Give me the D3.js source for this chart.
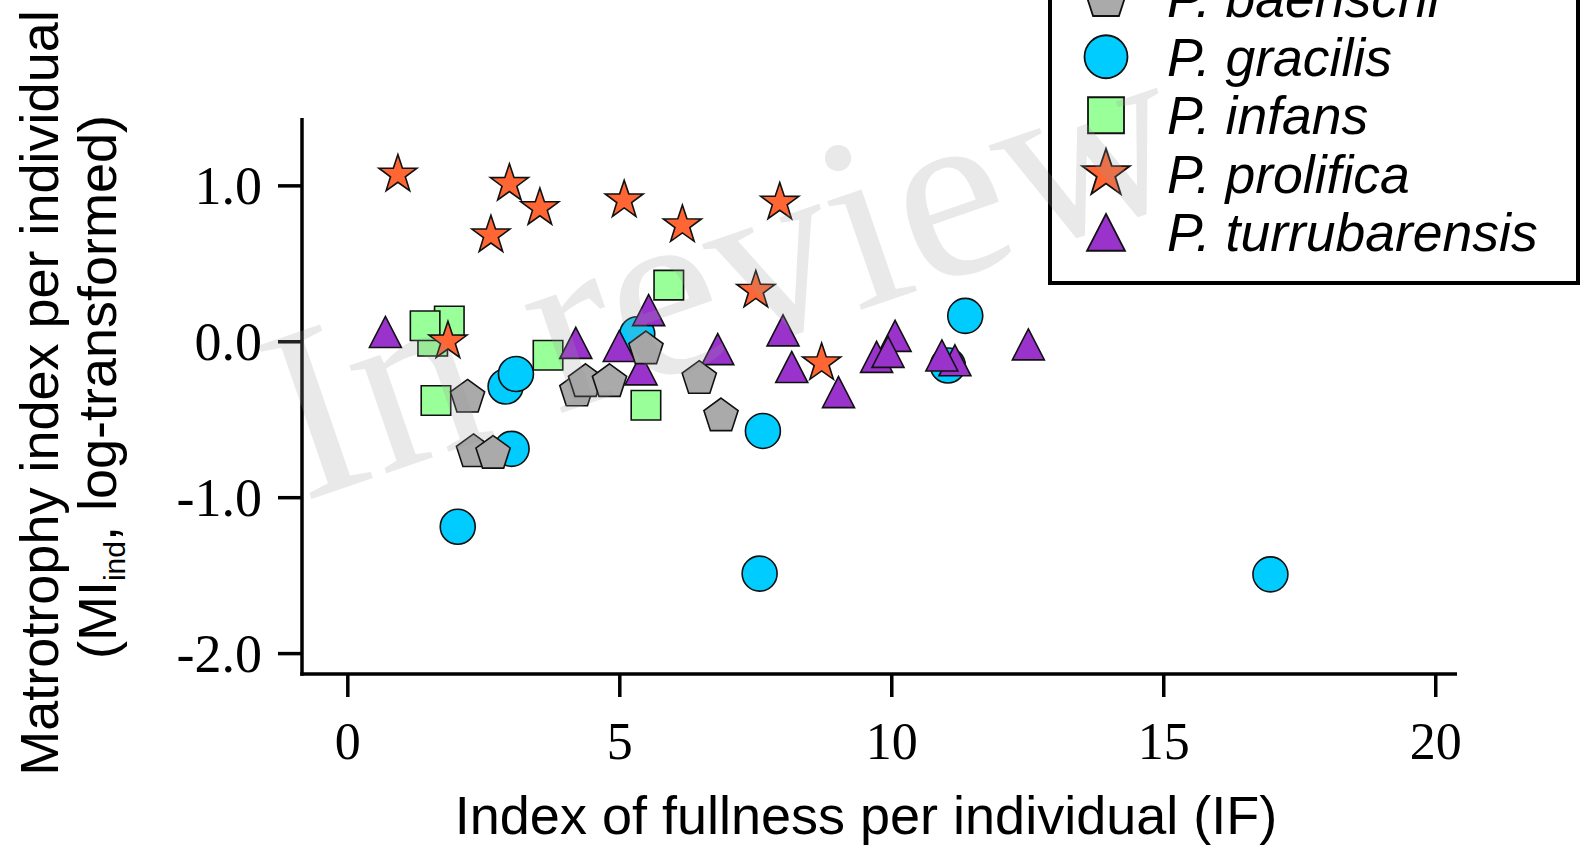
<!DOCTYPE html>
<html>
<head>
<meta charset="utf-8">
<script src="https://cdn.jsdelivr.net/npm/d3@7"></script>
<style>
  html, body { margin: 0; padding: 0; background: #fff; }
  svg { display: block; }
</style>
</head>
<body>
<svg id="chart" width="1589" height="852"></svg>
<script>
// Index of fullness (IF) and log-transformed matrotrophy index (MI_ind) per species
const species = ["P. baenschi", "P. gracilis", "P. infans", "P. prolifica", "P. turrubarensis"];

const ifBaenschi = [2.21, 2.32, 2.68, 4.22, 4.38, 4.82, 5.49, 6.47, 6.87];
const miBaenschi = [-0.36, -0.71, -0.72, -0.32, -0.26, -0.26, -0.05, -0.24, -0.48];

const ifGracilis = [5.33, 2.91, 3.10, 3.02, 2.03, 7.64, 7.58, 16.97, 11.36, 11.04];
const miGracilis = [0.045, -0.29, -0.21, -0.69, -1.19, -0.575, -1.49, -1.495, 0.163, -0.155];

const ifInfans = [1.57, 1.875, 1.43, 1.63, 3.69, 5.49, 5.91];
const miInfans = [0.0, 0.13, 0.10, -0.38, -0.09, -0.41, 0.36];

const ifProlifica = [0.93, 2.98, 3.54, 2.64, 5.09, 6.16, 7.95, 7.51, 1.85, 8.72];
const miProlifica = [1.07, 1.01, 0.855, 0.68, 0.905, 0.745, 0.89, 0.325, 0.0, -0.14];

const ifTurrubarensis = [0.70, 4.20, 5.00, 5.54, 5.40, 6.81, 8.01, 8.17, 9.03, 10.07, 9.73, 9.94, 11.17, 10.93, 12.52];
const miTurrubarensis = [0.06, -0.01, -0.03, 0.20, -0.18, -0.05, 0.07, -0.165, -0.326, 0.035, -0.10, -0.068, -0.122, -0.091, -0.02];

const xTicks = [0, 5, 10, 15, 20];
const yTicks = [1.0, 0.0, -1.0, -2.0];
const yTickLabels = ["1.0", "0.0", "-1.0", "-2.0"];

// ---- marker shapes (paths centred on 0,0) ----
function circlePath(s) {
  const r = s / 2;
  return `M${r},0A${r},${r} 0 1,1 ${-r},0A${r},${r} 0 1,1 ${r},0Z`;
}
function squarePath(s) {
  const h = s / 2;
  return `M${-h},${-h}H${h}V${h}H${-h}Z`;
}
function trianglePath(s) {
  const w = s / 2, h = s * 0.97 / 2;
  return `M0,${-h}L${w},${h}L${-w},${h}Z`;
}
function polyStar(n, R, r) {
  const pts = [];
  const k = r == null ? n : n * 2;
  for (let i = 0; i < k; i++) {
    const rad = (r == null || i % 2 === 0) ? R : r;
    const a = -Math.PI / 2 + i * Math.PI * 2 / k;
    pts.push([rad * Math.cos(a), rad * Math.sin(a)]);
  }
  return "M" + pts.map(p => p[0].toFixed(2) + "," + p[1].toFixed(2)).join("L") + "Z";
}
function pentagonPath(s) { return polyStar(5, s / 2); }
function starPath(s) { return polyStar(5, s / 2, s / 2 * 0.39); }

const series = [
  { name: species[0], xs: ifBaenschi, ys: miBaenschi, fill: "#aaaaaa", shape: pentagonPath, size: 36, lsize: 44 },
  { name: species[1], xs: ifGracilis, ys: miGracilis, fill: "#00ccff", shape: circlePath, size: 35, lsize: 43 },
  { name: species[2], xs: ifInfans, ys: miInfans, fill: "#99ff99", shape: squarePath, size: 29.5, lsize: 36 },
  { name: species[3], xs: ifProlifica, ys: miProlifica, fill: "#ff6633", shape: starPath, size: 40, lsize: 50 },
  { name: species[4], xs: ifTurrubarensis, ys: miTurrubarensis, fill: "#9933cc", shape: trianglePath, size: 32, lsize: 38 }
];
// stacking order of the point layers
const drawOrder = [1, 2, 3, 4, 0];

const svg = d3.select("#chart");

const x = d3.scaleLinear().domain([-0.833, 20.40]).range([302, 1457]);
const y = d3.scaleLinear().domain([1.432, -2.134]).range([118, 674]);

// ---- axes ----
const axisStroke = 3.5;
const serif = "'Liberation Serif', 'Times New Roman', serif";
const sans = "'Liberation Sans', Arial, sans-serif";

const gx = svg.append("g").attr("transform", `translate(0,${y.range()[1]})`)
  .call(d3.axisBottom(x).tickValues(xTicks).tickSize(23).tickSizeOuter(0).tickPadding(25).tickFormat(d3.format("d")));
const gy = svg.append("g").attr("transform", `translate(${x.range()[0]},0)`)
  .call(d3.axisLeft(y).tickValues(yTicks).tickSize(24).tickSizeOuter(0).tickPadding(16)
    .tickFormat((d, i) => yTickLabels[i]));

[gx, gy].forEach(g => {
  g.select(".domain").attr("stroke", "#000").attr("stroke-width", axisStroke);
  g.selectAll(".tick line").attr("stroke", "#000").attr("stroke-width", axisStroke);
  g.selectAll(".tick text").attr("fill", "#000").style("font-family", serif).style("font-size", "52px");
});
gx.selectAll(".tick text").attr("dy", "0.71em");
gy.selectAll(".tick text").attr("dy", "0.34em").style("font-size", "54px");

// extend the axis lines so they meet in the corner
gx.select(".domain").attr("d", `M${-axisStroke / 2 + x.range()[0]},0H${x.range()[1]}`);
gy.select(".domain").attr("d", `M0,${y.range()[0]}V${y.range()[1] + axisStroke / 2}`);

// ---- axis titles ----
svg.append("text")
  .attr("x", 866).attr("y", 834)
  .attr("text-anchor", "middle")
  .style("font-family", sans).style("font-size", "54px")
  .text("Index of fullness per individual (IF)");

const yt = svg.append("g").attr("transform", "rotate(-90)");
yt.append("text")
  .attr("x", -393).attr("y", 58)
  .attr("text-anchor", "middle")
  .style("font-family", sans).style("font-size", "54px")
  .text("Matrotrophy index per individual");
const yt2 = yt.append("text")
  .attr("x", -387).attr("y", 116)
  .attr("text-anchor", "middle")
  .style("font-family", sans).style("font-size", "54px");
yt2.append("tspan").text("(MI");
yt2.append("tspan").attr("dy", 9).style("font-size", "30px").text("ind");
yt2.append("tspan").attr("dy", -9).text(", log-transformed)");

// ---- points ----
const plot = svg.append("g");
drawOrder.forEach(i => {
  const s = series[i];
  const pts = s.xs.map((v, j) => ({ x: v, y: s.ys[j] }));
  plot.append("g").selectAll("path").data(pts).join("path")
    .attr("d", s.shape(s.size))
    .attr("transform", d => `translate(${x(d.x)},${y(d.y)})`)
    .attr("fill", s.fill)
    .attr("stroke", "#111")
    .attr("stroke-width", 1.6)
    .attr("stroke-linejoin", "miter");
});

// ---- legend ----
const legend = svg.append("g");
legend.append("rect")
  .attr("x", 1050).attr("y", -120)
  .attr("width", 528).attr("height", 403)
  .attr("fill", "#fff").attr("stroke", "#000").attr("stroke-width", 4);

const legendY = d3.scalePoint().domain(species).range([-1.8, 232.3]);
series.forEach(s => {
  const cy = legendY(s.name);
  legend.append("path")
    .attr("d", s.shape(s.lsize))
    .attr("transform", `translate(1106,${cy})`)
    .attr("fill", s.fill).attr("stroke", "#111").attr("stroke-width", 1.8);
  legend.append("text")
    .attr("x", 1167).attr("y", cy + 19)
    .style("font-family", sans).style("font-size", "53.5px").style("font-style", "italic")
    .text(s.name);
});

// ---- "In review" watermark ----
svg.append("text")
  .attr("transform", "translate(303,502) rotate(-19)")
  .style("font-family", serif).style("font-size", "248px")
  .attr("fill", "#9d9d9d").attr("fill-opacity", 0.22)
  .text("In review");
</script>
</body>
</html>
